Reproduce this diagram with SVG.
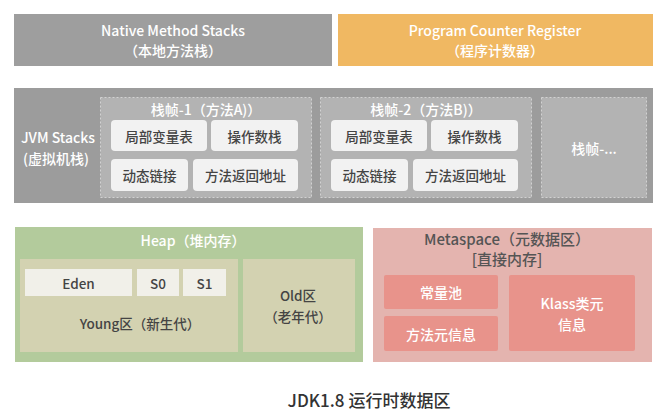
<svg xmlns="http://www.w3.org/2000/svg" width="669" height="418" viewBox="0 0 669 418">
<style>
text{font-family:"Noto Sans CJK SC","Noto Sans",sans-serif;text-anchor:middle;dominant-baseline:central;font-weight:500}
.w{fill:#ffffff;font-size:14px}
.wb{fill:#ffffff;font-size:14px}
.d{fill:#444444;font-size:13.5px}
.frame{fill:#b3b3b3;stroke:#d2d2d2;stroke-width:1;stroke-dasharray:2 2}
.cell{fill:#f2f2f2}
.hc{fill:#f1f0e9}
.mc{fill:#e8938b}
</style>
<rect width="669" height="418" fill="#ffffff"/>
<g id="native">
<rect x="14" y="14" width="318" height="52" fill="#9e9e9e"/>
<text class="w" x="173" y="30">Native Method Stacks</text>
<text class="w" x="173" y="50">（本地方法栈）</text>
</g>
<g id="pc">
<rect x="338" y="14" width="315" height="52" fill="#f0b862"/>
<text class="w" x="495" y="30">Program Counter Register</text>
<text class="w" x="495" y="50">（程序计数器）</text>
</g>
<g id="jvmstacks">
<rect x="14" y="88" width="639" height="115" fill="#9c9c9c"/>
<text class="wb" x="58" y="137" font-size="15">JVM Stacks</text>
<text class="wb" x="56" y="158" font-size="15">(虚拟机栈)</text>
</g>
<g id="frame1">
<rect class="frame" x="100.5" y="97.5" width="211" height="100"/>
<text class="w" x="206" y="109">栈帧-1（方法A)）</text>
<rect class="cell" x="111" y="120" width="96" height="31" rx="4"/>
<text class="d" x="159" y="135.5">局部变量表</text>
<rect class="cell" x="211" y="120" width="87" height="31" rx="4"/>
<text class="d" x="254.5" y="135.5">操作数栈</text>
<rect class="cell" x="111" y="159" width="77" height="32" rx="4"/>
<text class="d" x="149.5" y="175">动态链接</text>
<rect class="cell" x="193" y="159" width="105" height="32" rx="4"/>
<text class="d" x="245.5" y="175">方法返回地址</text>
</g>
<g id="frame2">
<rect class="frame" x="320.5" y="97.5" width="211" height="100"/>
<text class="w" x="426" y="109">栈帧-2（方法B)）</text>
<rect class="cell" x="331" y="120" width="96" height="31" rx="4"/>
<text class="d" x="379" y="135.5">局部变量表</text>
<rect class="cell" x="431" y="120" width="87" height="31" rx="4"/>
<text class="d" x="474.5" y="135.5">操作数栈</text>
<rect class="cell" x="331" y="159" width="77" height="32" rx="4"/>
<text class="d" x="369.5" y="175">动态链接</text>
<rect class="cell" x="413" y="159" width="105" height="32" rx="4"/>
<text class="d" x="465.5" y="175">方法返回地址</text>
</g>
<g id="frame3">
<rect class="frame" x="541.5" y="97.5" width="105" height="100"/>
<text class="w" x="594" y="148">栈帧-...</text>
</g>
<g id="heap">
<rect x="15" y="227" width="348" height="135" fill="#b3cb9c"/>
<text class="wb" x="193" y="240">Heap（堆内存）</text>
</g>
<g id="young">
<rect x="20" y="259" width="218" height="93" fill="#d3d2b1"/>
<rect class="hc" x="25" y="269" width="107" height="27"/>
<text class="d" x="78.5" y="282.5" font-size="14">Eden</text>
<rect class="hc" x="137" y="269" width="42" height="27"/>
<text class="d" x="158" y="282.5" font-size="14">S0</text>
<rect class="hc" x="183" y="269" width="43" height="27"/>
<text class="d" x="204.5" y="282.5" font-size="14">S1</text>
<text class="d" x="140" y="323" font-size="15">Young区（新生代）</text>
</g>
<g id="old">
<rect x="243" y="259" width="112" height="93" fill="#d3d2b1"/>
<text class="d" x="298" y="295" font-size="15">Old区</text>
<text class="d" x="298" y="316" font-size="15">（老年代）</text>
</g>
<g id="metaspace">
<rect x="373" y="228" width="279" height="134" fill="#e4b4af"/>
<text x="507" y="238" fill="#555555" font-size="15">Metaspace（元数据区）</text>
<text x="507" y="258" fill="#555555" font-size="15">[直接内存]</text>
</g>
<g id="constpool">
<rect class="mc" x="384" y="275" width="114" height="34" rx="2"/>
<text class="wb" x="441" y="292" font-size="15.5">常量池</text>
</g>
<g id="methodmeta">
<rect class="mc" x="384" y="316" width="114" height="35" rx="2"/>
<text class="wb" x="441" y="333.5" font-size="15.5">方法元信息</text>
</g>
<g id="klass">
<rect class="mc" x="509" y="275" width="126" height="76" rx="2"/>
<text class="wb" x="572" y="303" font-size="15.5">Klass类元</text>
<text class="wb" x="572" y="324" font-size="15.5">信息</text>
</g>
<g id="connectors"></g>
<text x="369" y="399" fill="#333333" font-size="17" font-weight="bold">JDK1.8 运行时数据区</text>
</svg>
